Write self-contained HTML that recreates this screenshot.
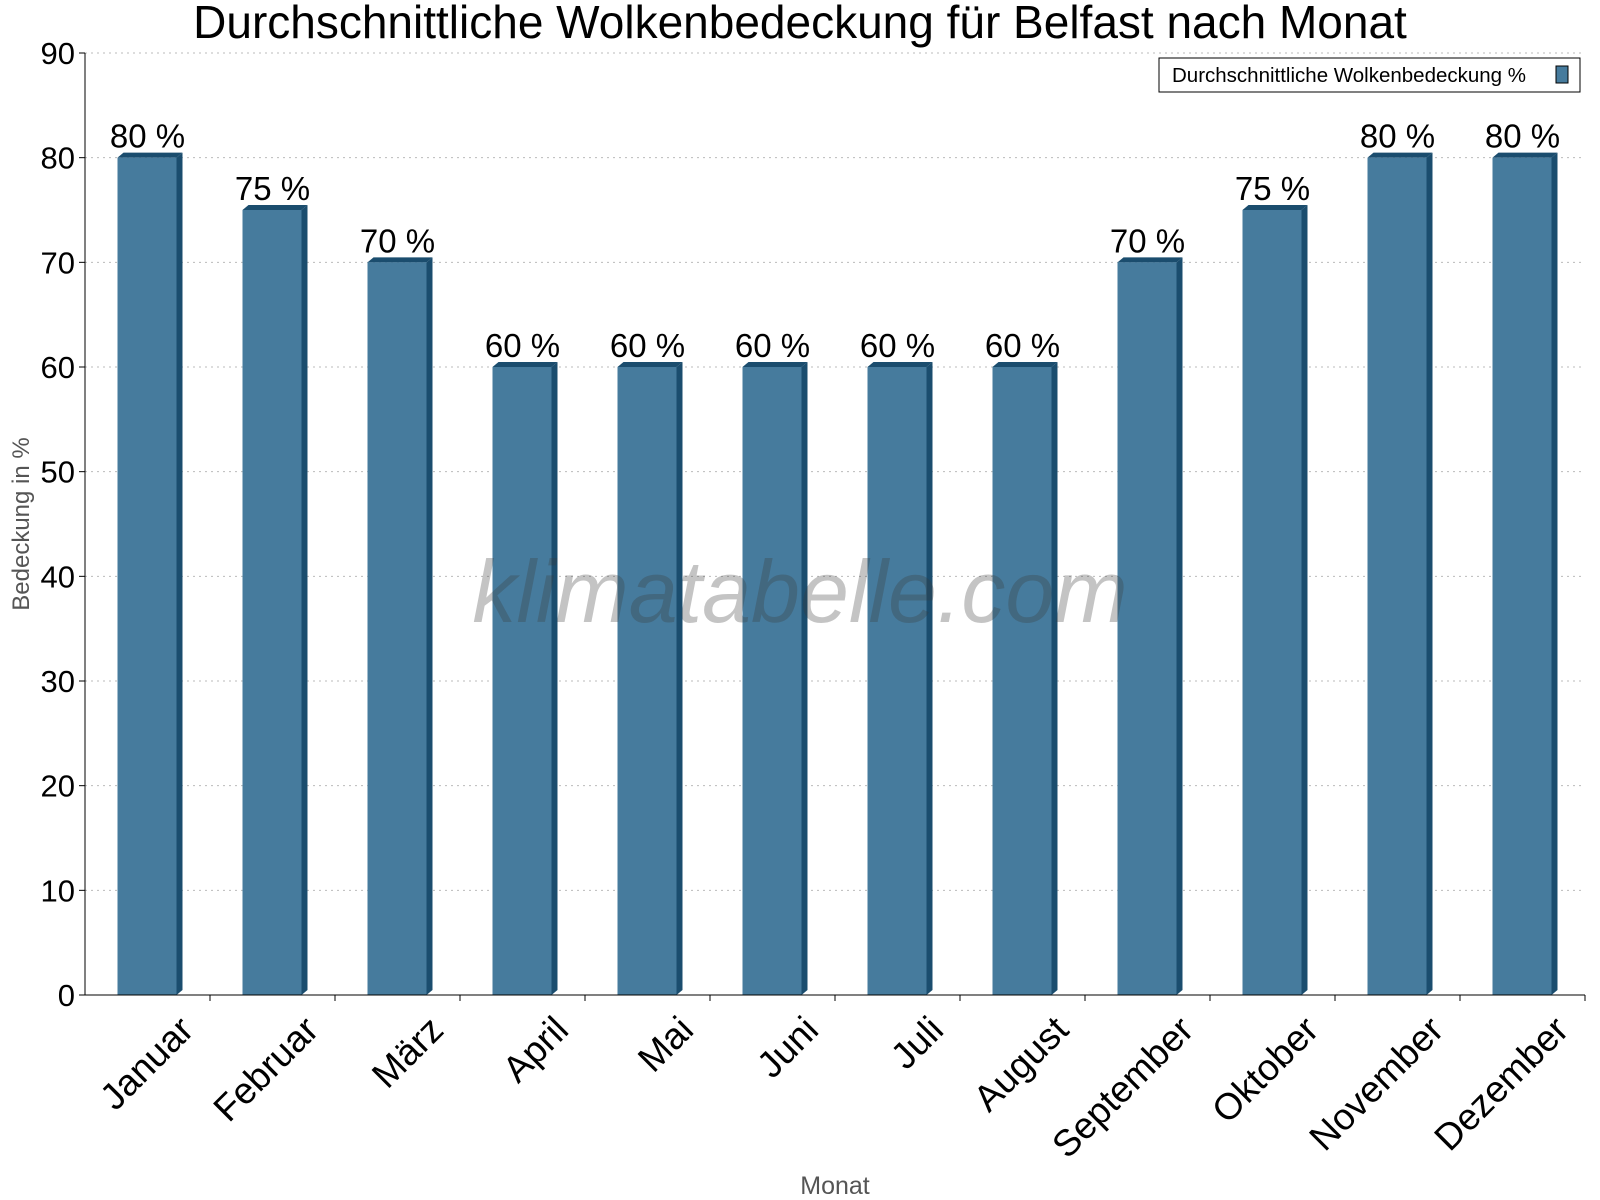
<!DOCTYPE html>
<html><head><meta charset="utf-8"><style>body{margin:0;background:#fff}svg{display:block;font-family:"Liberation Sans",sans-serif}</style></head>
<body>
<svg id="c" width="1600" height="1200"></svg>
<script>
const months=["Januar","Februar","März","April","Mai","Juni","Juli","August","September","Oktober","November","Dezember"];
const values=[80,75,70,60,60,60,60,60,70,75,80,80];
const yTicks=[0,10,20,30,40,50,60,70,80,90];
const NS="http://www.w3.org/2000/svg";
const svg=document.getElementById('c');
const X0=85,X1=1585,Y0=995,Y1=53,YMAX=90;
const cw=(X1-X0)/months.length;
const y=v=>Y0-v*(Y0-Y1)/YMAX;
const xc=i=>X0+cw*(i+0.5);
function el(t,a,txt){const e=document.createElementNS(NS,t);for(const k in a)e.setAttribute(k,a[k]);if(txt!=null)e.textContent=txt;svg.appendChild(e);return e;}
let e;
e=el('text',{x:800,y:38,'text-anchor':'middle','font-size':46,fill:'#000'},'Durchschnittliche Wolkenbedeckung für Belfast nach Monat');


yTicks.forEach(t=>{
 if(t>0){e=el('line',{x1:X0,x2:X1,y1:y(t),y2:y(t),stroke:'#bbb','stroke-dasharray':'2,4'});
 
 }
 e=el('line',{x1:X0-6,x2:X0,y1:y(t),y2:y(t),stroke:'#000'});
 
 
 e=el('text',{x:X0-10,y:y(t)+11,'text-anchor':'end','font-size':31},String(t));
 
 
});
const bw=59,dx=6,dy=5;
values.forEach((v,i)=>{
 const l=xc(i)-30,t=y(v);
 e=el('polygon',{points:`${l},${t} ${l+dx},${t-dy} ${l+bw+dx},${t-dy} ${l+bw},${t}`,fill:'#1b4d6e'});
 
 
 e=el('polygon',{points:`${l+bw},${t} ${l+bw+dx},${t-dy} ${l+bw+dx},${Y0-dy} ${l+bw},${Y0}`,fill:'#1b4d6e'});
 
 
 e=el('rect',{x:l,y:t,width:bw,height:Y0-t,fill:'#467b9d'});
 
 
 e=el('text',{x:xc(i),y:t-10,'text-anchor':'middle','font-size':33},v+' %');
 
 
 e=el('line',{x1:X0+cw*(i+1),x2:X0+cw*(i+1),y1:Y0,y2:Y0+6,stroke:'#000'});
 
 
 const lx=xc(i)+48,ly=1032;
 e=el('text',{x:lx,y:ly,'text-anchor':'end','font-size':37,transform:`rotate(-45 ${lx} ${ly})`},months[i]);
 
 
});
e=el('text',{x:800,y:622,'text-anchor':'middle','font-size':88,'font-style':'italic',fill:'rgba(60,60,60,0.3)'},'klimatabelle.com');


e=el('line',{x1:X0,x2:X0,y1:Y1,y2:Y0,stroke:'#000'});


e=el('line',{x1:X0,x2:X1,y1:Y0,y2:Y0,stroke:'#000'});


e=el('text',{x:29,y:524,'text-anchor':'middle','font-size':24,fill:'#555',transform:'rotate(-90 29 524)'},'Bedeckung in %');


e=el('text',{x:835,y:1194,'text-anchor':'middle','font-size':25,fill:'#555'},'Monat');


e=el('rect',{x:1159,y:58,width:421,height:34,fill:'#fff',stroke:'#000'});


e=el('text',{x:1172,y:82,'font-size':20.5},'Durchschnittliche Wolkenbedeckung %');


e=el('rect',{x:1556,y:66,width:12,height:17,fill:'#467b9d',stroke:'#000'});


</script>
</body></html>
